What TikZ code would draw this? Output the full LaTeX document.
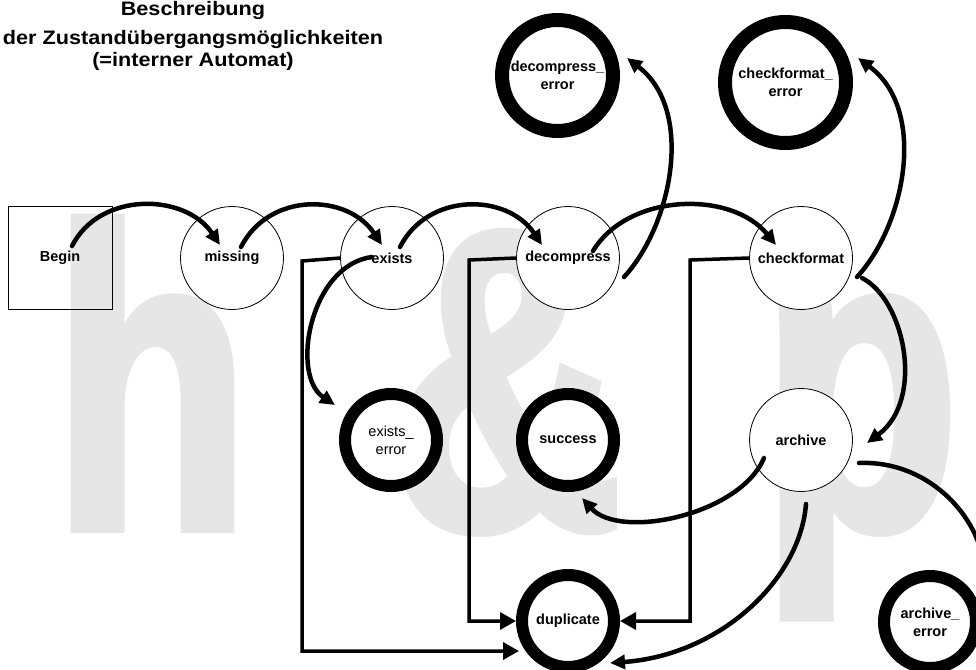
\documentclass[tikz,border=0pt]{standalone}
\usepackage{fontspec}
\setmainfont{Liberation Sans}
\newfontfamily\wmfont{Liberation Sans Bold}[FakeStretch=0.752,FakeBold=2.3]
\newfontfamily\titlefont{Liberation Sans Bold}[FakeStretch=1.11]
\usetikzlibrary{arrows.meta,calc}
\definecolor{wmgray}{HTML}{E6E6E6}
\tikzset{
  lbl/.style={font=\fontsize{14.5}{18}\selectfont\bfseries},
  startbox/.style={lbl, draw, line width=0.8pt, minimum width=104pt, minimum height=103pt, inner sep=0pt},
  statenode/.style={lbl, circle, draw, line width=0.8pt, fill=white, minimum size=103pt, inner sep=0pt},
  finalnode/.style={lbl, circle, draw, line width=12pt, fill=white, minimum size=92pt, inner sep=0pt, align=center},
  flow/.style={line width=4.5pt, line cap=round, -{Triangle[length=15pt,width=14pt]}},
  ortho/.style={line width=3.5pt, -{Triangle[length=16pt,width=17pt]}},
  wm/.style={text=wmgray, inner sep=0pt, anchor=base west, font=\wmfont\fontsize{427}{427}\selectfont},
}
\begin{document}
\begin{tikzpicture}[x=1pt,y=-1pt]
\useasboundingbox (0,0) rectangle (976,669);
\clip (0,0) rectangle (976,669);

% background lettering
\node[wm] (wmh) at (53,528) {h};
\node[wm] (wmamp) at (390,528) {\&};
\node[wm] (wmp) at (762,528) {p};

% heading
\node[align=center, font=\titlefont\fontsize{19.5}{22.4}\selectfont] (title) at (193,36)
  {Beschreibung\\[7pt]der Zustandübergangsmöglichkeiten\\(=interner Automat)};

% states
\node[startbox] (begin) at (60,258) {Begin};
\node[statenode] (missing) at (232,258) {missing};
\node[statenode] (exists) at (392,258) {exists};
\node[statenode] (decompress) at (568,258) {decompress};
\node[statenode] (checkformat) at (801,258) {checkformat};
\node[statenode] (archive) at (801,440) {archive};

% final states
\node[finalnode] (existserr) at (391,440) {\mdseries exists\_\\\mdseries error};
\node[finalnode] (success) at (568,440) {success};
\node[finalnode] (duplicate) at (568,621) {duplicate};
\node[finalnode] (archiveerr) at (930,622) {archive\_\\error};
\node[finalnode, line width=14pt, minimum size=111pt] (decerr) at (557.5,75.5) {decompress\_\\error};
\node[finalnode, line width=14pt, minimum size=121pt] (cferr) at (785.5,82.5) {checkformat\_\\error};

% main chain
\draw[flow] ([shift={(12,-12)}]begin.center) .. controls +(28,-55) and +(-35,-52) .. ([shift={(-12,-13)}]missing.center);
\draw[flow] ([shift={(9,-11)}]missing.center) .. controls +(28,-55) and +(-35,-52) .. ([shift={(-10,-13)}]exists.center);
\draw[flow] ([shift={(8,-11)}]exists.center) .. controls +(28,-55) and +(-35,-52) .. ([shift={(-26,-13)}]decompress.center);
\draw[flow] ([shift={(25,-7)}]decompress.center) .. controls +(35,-58) and +(-45,-55) .. ([shift={(-25,-13)}]checkformat.center);

% error branches
\draw[flow] ([shift={(56,19)}]decompress.center) .. controls +(48,-52) and +(68,52) .. ([shift={(69.5,-17.5)}]decerr.center);
\draw[flow] ([shift={(56,19)}]checkformat.center) .. controls +(48,-52) and +(70,52) .. ([shift={(72.5,-24.5)}]cferr.center);
\draw[flow] ([shift={(-20,-1)}]exists.center) .. controls +(-62,8) and +(-45,-30) .. ([shift={(-56,-35)}]existserr.center);

% archive transitions
\draw[flow] ([shift={(61,20)}]checkformat.center) .. controls +(43,22) and +(58,-43) .. ([shift={(66,3)}]archive.center);
\draw[flow] ([shift={(-37,18)}]archive.center) .. controls +(-24,57) and +(38,42) .. ([shift={(14,58)}]success.center);
\draw[flow] ([shift={(5,64)}]archive.center) .. controls +(-6,76) and +(110,-8) .. ([shift={(42,42)}]duplicate.center);
\draw[flow] ([shift={(58,23)}]archive.center) .. controls +(71,-3) and +(0,-72) .. ([shift={(55,-30)}]archiveerr.center);

% duplicate transitions
\draw[ortho] (exists.west) -- ++(-38,3) |- ([shift={(-49,30)}]duplicate.center);
\draw[ortho] (decompress.west) -- ++(-47,2) |- (duplicate.west);
\draw[ortho] (checkformat.west) -- ++(-59,2) |- (duplicate.east);
\end{tikzpicture}
\end{document}
